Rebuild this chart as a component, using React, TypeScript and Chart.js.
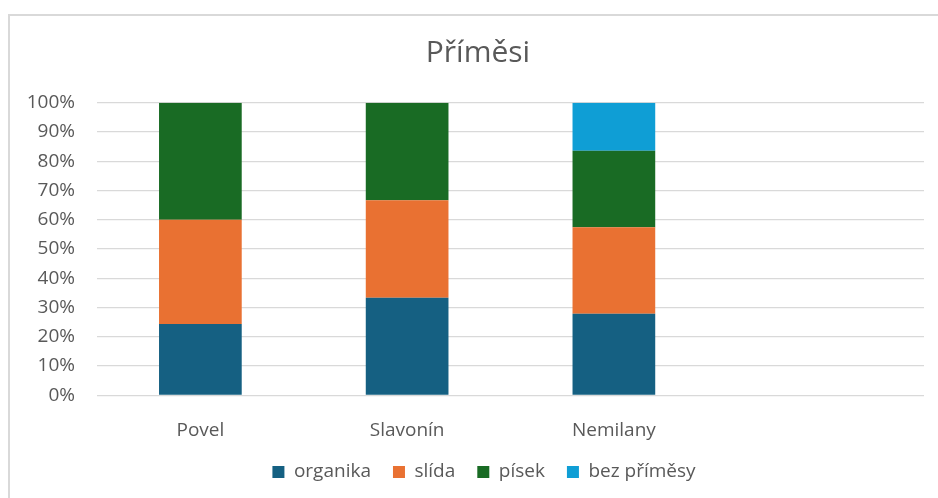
import React, { useEffect, useRef } from "react";
import { Chart, registerables } from "chart.js";

Chart.register(...registerables);

const categories = ["Povel", "Slavonín", "Nemilany", ""];
const organika = [24.4, 33.3, 27.9, null];
const slida = [35.6, 33.4, 29.5, null];
const pisek = [40.0, 33.3, 26.2, null];
const bezPrimesy = [0, 0, 16.4, null];
const yTicks = [0, 10, 20, 30, 40, 50, 60, 70, 80, 90, 100];

const FONT = "'Open Sans', sans-serif";
const TEXT = "#595959";

const framePlugin = {
  id: "frame",
  afterLayout(chart: any) {
    if (chart.legend) {
      chart.legend.left += 22;
      chart.legend.right += 22;
    }
    if (chart.titleBlock) {
      chart.titleBlock.left += 16;
      chart.titleBlock.right += 16;
    }
  },
  beforeDraw(chart: any) {
    const ctx = chart.ctx;
    ctx.save();
    ctx.fillStyle = "#ffffff";
    ctx.fillRect(0, 0, chart.width, chart.height);
    ctx.fillStyle = "#d9d9d9";
    ctx.fillRect(8, 14, 2, chart.height - 14);
    ctx.fillRect(8, 14, chart.width - 8, 2);
    ctx.restore();
  },
};

export default function App() {
  const ref = useRef<HTMLCanvasElement | null>(null);
  useEffect(() => {
    if (!ref.current) return;
    const chart = new Chart(ref.current, {
      type: "bar",
      data: {
        labels: categories,
        datasets: [
          { label: "organika", data: organika, backgroundColor: "#156082" },
          { label: "slída", data: slida, backgroundColor: "#E97132" },
          { label: "písek", data: pisek, backgroundColor: "#196B24" },
          { label: "bez příměsy", data: bezPrimesy, backgroundColor: "#0F9ED5" },
        ] as any,
      },
      options: {
        animation: false,
        responsive: false,
        layout: { padding: { left: 0, right: 14, top: 0, bottom: 6.5 } },
        datasets: { bar: { categoryPercentage: 1, barPercentage: 0.4 } } as any,
        plugins: {
          title: {
            display: true,
            text: "Příměsi",
            color: TEXT,
            font: { family: FONT, size: 30, weight: "normal" },
            padding: { top: 35, bottom: 31.7 },
          },
          legend: {
            position: "bottom",
            labels: {
              color: TEXT,
              font: { family: FONT, size: 19 },
              boxWidth: 12,
              boxHeight: 12,
              padding: 22,
            },
          },
          tooltip: { enabled: false },
        },
        scales: {
          x: {
            stacked: true,
            grid: { display: false },
            border: { display: false },
            ticks: { color: TEXT, font: { family: FONT, size: 19 }, padding: 16 },
            afterFit(scale: any) {
              scale.height = 45.2;
            },
          },
          y: {
            stacked: true,
            min: 0,
            max: 100,
            afterBuildTicks(scale: any) {
              scale.ticks = yTicks.map((v) => ({ value: v }));
            },
            grid: { color: "#d9d9d9", lineWidth: 1.3, drawTicks: false },
            border: { display: false },
            ticks: {
              color: TEXT,
              font: { family: FONT, size: 19 },
              padding: 22,
              callback: (v: any) => v + "%",
            },
            afterFit(scale: any) {
              scale.width = 97;
            },
          },
        },
      },
      plugins: [framePlugin],
    });
    return () => chart.destroy();
  }, []);
  return (
    <div style={{ position: "absolute", left: 0, top: 0, width: 938, height: 498, overflow: "hidden" }}>
      <canvas ref={ref} width={938} height={498} style={{ display: "block" }} />
    </div>
  );
}
